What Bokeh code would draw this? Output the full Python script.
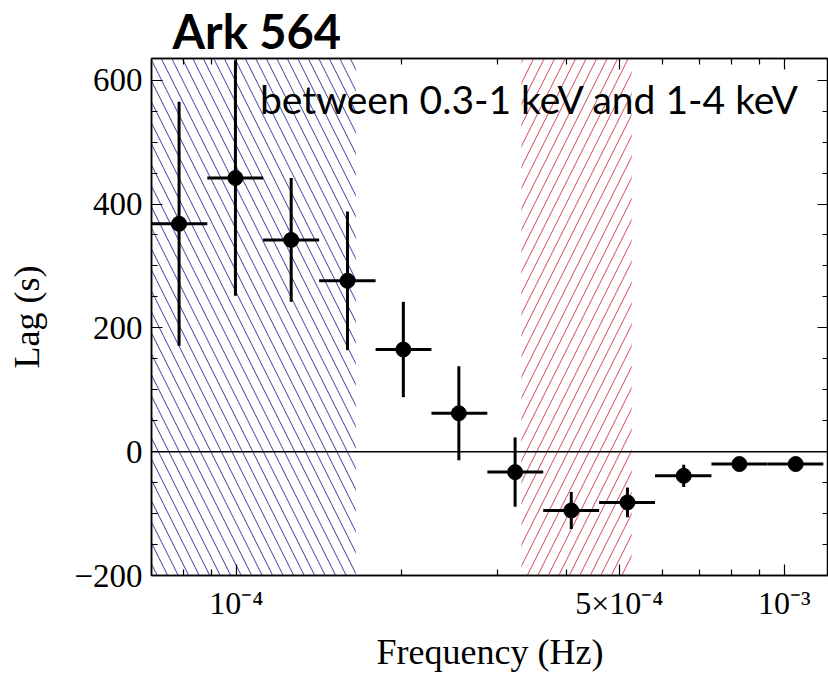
from bokeh.plotting import figure
from bokeh.models import (LogAxis, LinearAxis, FixedTicker, SingleIntervalTicker,
                          CustomJSTickFormatter, Span, BoxAnnotation, Label, Range1d)
from bokeh.embed import file_html
from bokeh.resources import INLINE

# ---------------- data ----------------
freq = [7.86e-5, 9.96e-5, 1.259e-4, 1.595e-4, 2.017e-4, 2.547e-4,
        3.226e-4, 4.085e-4, 5.173e-4, 6.552e-4, 8.28e-4, 1.049e-3]
freq_lo = [7.00e-5, 8.85e-5, 1.119e-4, 1.416e-4, 1.795e-4, 2.27e-4,
           2.871e-4, 3.631e-4, 4.592e-4, 5.808e-4, 7.362e-4, 9.311e-4]
freq_hi = [8.85e-5, 1.119e-4, 1.416e-4, 1.795e-4, 2.27e-4, 2.871e-4,
           3.631e-4, 4.592e-4, 5.808e-4, 7.362e-4, 9.311e-4, 1.178e-3]
lag = [368, 442, 342, 276, 165, 62, -33, -95, -82, -39, -20, -20]
lag_err = [197, 190, 100, 112, 77, 76, 56, 30, 24, 18, 4, 4]

blue_band = [7.0e-5, 1.652e-4]
red_band = [3.312e-4, 5.266e-4]

x_major = [1e-4, 5e-4, 1e-3]
x_labels = ["10\u207b\u2074", "5\u00d710\u207b\u2074", "10\u207b\u00b3"]
x_minor = [8e-5, 9e-5, 2e-4, 3e-4, 4e-4, 6e-4, 7e-4, 8e-4, 9e-4]

title_text = "Ark 564"
note_text = "between 0.3-1 keV and 1-4 keV"
x_title = "Frequency (Hz)"
y_title = "Lag (s)"

# ---------------- figure ----------------
p = figure(width=828, height=674, x_axis_type="log",
           x_range=Range1d(7.0e-5, 1.204e-3), y_range=Range1d(-200, 635),
           output_backend="svg", toolbar_location=None,
           min_border_left=151, min_border_right=0,
           min_border_top=57, min_border_bottom=98)
p.background_fill_color = "white"
p.border_fill_color = "white"
p.grid.visible = False
p.outline_line_color = "black"
p.outline_line_width = 1.5

p.title.text = title_text
p.title.text_font = "Lato"
p.title.text_font_style = "bold"
p.title.text_font_size = "47px"
p.title.text_color = "black"
p.title.align = "left"
p.title.offset = 21
p.title.standoff = 0

# hatched bands
p.add_layout(BoxAnnotation(left=blue_band[0], right=blue_band[1],
                           fill_alpha=0, line_color=None,
                           hatch_pattern="\\", hatch_color="#3c3ca0",
                           hatch_scale=21, hatch_weight=1.0, level="underlay"))
p.add_layout(BoxAnnotation(left=red_band[0], right=red_band[1],
                           fill_alpha=0, line_color=None,
                           hatch_pattern="/", hatch_color="#d0485c",
                           hatch_scale=21, hatch_weight=1.0, level="underlay"))

# zero line
p.add_layout(Span(location=0, dimension="width", line_color="black", line_width=1.5))

# error bars
lo = [l - e for l, e in zip(lag, lag_err)]
hi = [l + e for l, e in zip(lag, lag_err)]
p.segment(x0=freq, y0=lo, x1=freq, y1=hi, line_color="black", line_width=3)
p.segment(x0=freq_lo, y0=lag, x1=freq_hi, y1=lag, line_color="black", line_width=3)
p.scatter(x=freq, y=lag, size=15, color="black")

# annotation
p.add_layout(Label(x=1.065e-3, y=570, text=note_text, text_align="right",
                   text_baseline="alphabetic", text_font="Lato",
                   text_font_size="39px", text_color="black"))

# axes styling
xt = FixedTicker(ticks=x_major, minor_ticks=x_minor)
xfmt = CustomJSTickFormatter(args=dict(tvals=x_major, tlabels=x_labels), code="""
for (let i = 0; i < tvals.length; i++) {
  if (Math.abs(tick - tvals[i]) / tvals[i] < 1e-6) return tlabels[i];
}
return "";
""")
yt = SingleIntervalTicker(interval=200, num_minor_ticks=4)
yfmt = CustomJSTickFormatter(code="return String(tick).replace('-', '\u2212');")
blank = CustomJSTickFormatter(code="return '';")

def style(ax):
    ax.major_tick_in = 11
    ax.major_tick_out = 0
    ax.minor_tick_in = 6
    ax.minor_tick_out = 0
    ax.major_tick_line_color = "black"
    ax.minor_tick_line_color = "black"
    ax.major_tick_line_width = 1.2
    ax.minor_tick_line_width = 1.2
    ax.axis_line_color = "black"
    ax.axis_line_width = 1.5
    ax.major_label_text_color = "black"
    ax.axis_label_text_color = "black"

xa = p.xaxis[0]
xa.ticker = xt
xa.formatter = xfmt
style(xa)
xa.major_label_text_font = "Liberation Serif"
xa.major_label_text_font_size = "32px"
xa.major_label_standoff = 9
xa.axis_label = x_title
xa.axis_label_text_font = "Liberation Serif"
xa.axis_label_text_font_size = "36px"
xa.axis_label_text_font_style = "normal"
xa.axis_label_standoff = 8

ya = p.yaxis[0]
ya.ticker = yt
ya.formatter = yfmt
style(ya)
ya.major_label_text_font = "Liberation Serif"
ya.major_label_text_font_size = "33px"
ya.major_label_standoff = 9
ya.axis_label = y_title
ya.axis_label_text_font = "Liberation Serif"
ya.axis_label_text_font_size = "36px"
ya.axis_label_text_font_style = "normal"
ya.axis_label_standoff = 24

top = LogAxis(ticker=FixedTicker(ticks=x_major, minor_ticks=x_minor), formatter=blank)
style(top)
top.major_label_standoff = 0
top.major_label_text_font_size = "0px"
p.add_layout(top, "above")
right = LinearAxis(ticker=SingleIntervalTicker(interval=200, num_minor_ticks=4), formatter=blank)
style(right)
right.major_label_standoff = 0
right.major_label_text_font_size = "0px"
p.add_layout(right, "right")

open("out.html", "w").write(file_html(p, INLINE))
